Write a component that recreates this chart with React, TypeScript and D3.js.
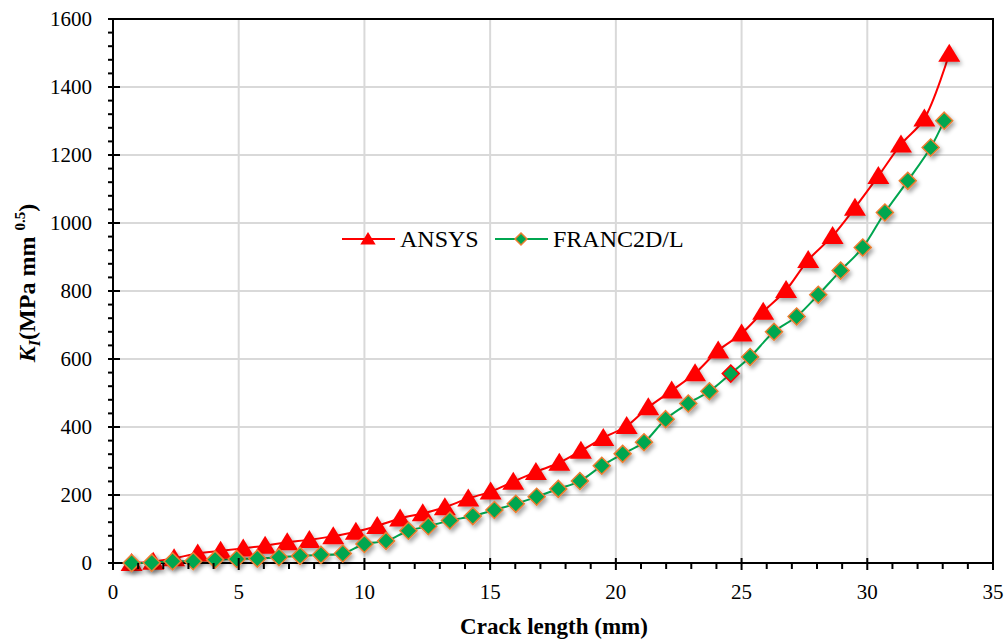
import React, { useRef, useEffect } from "react";
import { select, scaleLinear, line, curveCatmullRom, range } from "d3";

// crack length (mm) / KI values
const ansysX = [0.74, 1.6, 2.43, 3.37, 4.28, 5.18, 6.05, 6.93, 7.81, 8.76, 9.66, 10.51, 11.42, 12.32, 13.2, 14.13, 15.02, 15.92, 16.82, 17.75, 18.61, 19.5, 20.43, 21.29, 22.22, 23.15, 24.07, 25.0, 25.86, 26.77, 27.65, 28.62, 29.51, 30.44, 31.34, 32.27, 33.26];
const ansysY = [0, 4, 14, 28, 36, 43, 51, 61, 68, 79, 92, 109, 131, 146, 164, 190, 210, 239, 268, 295, 330, 368, 403, 458, 507, 558, 625, 675, 739, 803, 891, 962, 1045, 1138, 1231, 1307, 1498];

const francX = [0.74, 1.54, 2.37, 3.19, 4.06, 4.92, 5.74, 6.6, 7.44, 8.27, 9.14, 10.0, 10.86, 11.75, 12.54, 13.4, 14.31, 15.17, 16.02, 16.85, 17.71, 18.57, 19.44, 20.27, 21.12, 21.98, 22.88, 23.72, 24.57, 25.34, 26.29, 27.19, 28.05, 28.94, 29.82, 30.7, 31.61, 32.52, 33.06];
const francY = [0, 1, 5, 5, 10, 12, 13, 17, 21, 24, 28, 56, 65, 95, 108, 125, 138, 156, 174, 195, 218, 241, 286, 321, 355, 423, 469, 505, 557, 606, 680, 725, 789, 860, 928, 1031, 1124, 1222, 1301];

const xTicks = [0, 5, 10, 15, 20, 25, 30, 35];
const yTicks = [0, 200, 400, 600, 800, 1000, 1200, 1400, 1600];
const seriesNames = ["ANSYS", "FRANC2D/L"];

const W = 1005;
const H = 641;

function App() {
  const svgRef = useRef(null);

  useEffect(() => {
    const svg = select(svgRef.current);
    const x0 = 113, x1 = 993, y0 = 563, y1 = 19;
    const xScale = scaleLinear().domain([0, 35]).range([x0, x1]);
    const yScale = scaleLinear().domain([0, 1600]).range([y0, y1]);
    const font = "'Liberation Serif', 'Times New Roman', serif";

    const grid = svg.select(".grid");
    grid.selectAll(".gx").data(xTicks.slice(1, -1)).join("line").attr("class", "gx")
      .attr("x1", xScale).attr("x2", xScale).attr("y1", y1).attr("y2", y0)
      .attr("stroke", "#d9d9d9").attr("stroke-width", 2);
    grid.selectAll(".gy").data(yTicks.slice(1, -1)).join("line").attr("class", "gy")
      .attr("x1", x0).attr("x2", x1).attr("y1", yScale).attr("y2", yScale)
      .attr("stroke", "#d9d9d9").attr("stroke-width", 2);

    // frame
    grid.selectAll(".frame").data([0]).join("rect").attr("class", "frame")
      .attr("x", x0).attr("y", y1).attr("width", x1 - x0).attr("height", y0 - y1)
      .attr("fill", "none").attr("stroke", "#000").attr("stroke-width", 2);

    const axes = svg.select(".axes");
    // x ticks
    axes.selectAll(".xminor").data(range(0, 36).filter((d) => d % 5 !== 0)).join("line").attr("class", "xminor")
      .attr("x1", xScale).attr("x2", xScale).attr("y1", y0).attr("y2", y0 + 6)
      .attr("stroke", "#000").attr("stroke-width", 2);
    axes.selectAll(".xmajor").data(xTicks).join("line").attr("class", "xmajor")
      .attr("x1", xScale).attr("x2", xScale).attr("y1", y0 - 5).attr("y2", y0 + 7)
      .attr("stroke", "#000").attr("stroke-width", 2);
    axes.selectAll(".xlab").data(xTicks).join("text").attr("class", "xlab")
      .attr("x", xScale).attr("y", y0 + 36).attr("text-anchor", "middle")
      .attr("font-family", font).attr("font-size", 21).text((d) => d);

    // y ticks
    axes.selectAll(".yminor").data(range(0, 1601, 40).filter((d) => d % 200 !== 0)).join("line").attr("class", "yminor")
      .attr("x1", x0 - 5).attr("x2", x0).attr("y1", yScale).attr("y2", yScale)
      .attr("stroke", "#000").attr("stroke-width", 2);
    axes.selectAll(".ymajor").data(yTicks).join("line").attr("class", "ymajor")
      .attr("x1", x0 - 5).attr("x2", x0 + 7).attr("y1", yScale).attr("y2", yScale)
      .attr("stroke", "#000").attr("stroke-width", 2);
    axes.selectAll(".ylab").data(yTicks).join("text").attr("class", "ylab")
      .attr("x", x0 - 21).attr("y", (d) => yScale(d) + 7).attr("text-anchor", "end")
      .attr("font-family", font).attr("font-size", 21).text((d) => d);

    const lineGen = line().x((d) => xScale(d[0])).y((d) => yScale(d[1])).curve(curveCatmullRom.alpha(0.5));
    const ansys = ansysX.map((d, i) => [d, ansysY[i]]);
    const franc = francX.map((d, i) => [d, francY[i]]);

    const content = svg.select(".content");
    content.selectAll(".lineA").data([ansys]).join("path").attr("class", "lineA")
      .attr("d", lineGen).attr("fill", "none").attr("stroke", "#ff0000").attr("stroke-width", 2);
    content.selectAll(".lineF").data([franc]).join("path").attr("class", "lineF")
      .attr("d", lineGen).attr("fill", "none").attr("stroke", "#00a650").attr("stroke-width", 2);

    const tri = "M0,-10L11,8L-11,8Z";
    const dia = "M0,-8.5L8.5,0L0,8.5L-8.5,0Z";
    content.selectAll(".tri").data(ansys).join("path").attr("class", "tri")
      .attr("d", tri).attr("transform", (d) => `translate(${xScale(d[0])},${yScale(d[1])})`)
      .attr("fill", "#ff0000").attr("filter", "url(#shadow)");
    content.selectAll(".dia").data(franc).join("path").attr("class", "dia")
      .attr("d", dia).attr("transform", (d) => `translate(${xScale(d[0])},${yScale(d[1])})`)
      .attr("fill", "#00a650").attr("stroke", (d, i) => (i === 28 ? "#ff0000" : "#ed7d31")).attr("stroke-width", 1.5)
      .attr("filter", "url(#shadow)");

    // legend
    const legend = svg.select(".legend");
    const items = [
      { name: seriesNames[0], x: 342, color: "#ff0000", shape: tri, fill: "#ff0000", stroke: "none" },
      { name: seriesNames[1], x: 495, color: "#00a650", shape: "M0,-6L6,0L0,6L-6,0Z", fill: "#00a650", stroke: "#ed7d31" },
    ];
    const ly = 239;
    const g = legend.selectAll(".item").data(items).join("g").attr("class", "item");
    g.selectAll("line").data((d) => [d]).join("line")
      .attr("x1", (d) => d.x).attr("x2", (d) => d.x + 53).attr("y1", ly).attr("y2", ly)
      .attr("stroke", (d) => d.color).attr("stroke-width", 2);
    g.selectAll("path").data((d) => [d]).join("path")
      .attr("d", (d) => d.shape).attr("transform", (d) => `translate(${d.x + 26},${ly})${d.stroke === "none" ? " scale(0.7)" : ""}`)
      .attr("fill", (d) => d.fill).attr("stroke", (d) => d.stroke).attr("stroke-width", 1.5);
    g.selectAll("text").data((d) => [d]).join("text")
      .attr("x", (d) => d.x + 58).attr("y", ly + 8).attr("font-family", font).attr("font-size", 24)
      .text((d) => d.name);
  }, []);

  const font = "'Liberation Serif', 'Times New Roman', serif";
  return (
    <svg ref={svgRef} width={W} height={H} style={{ position: "absolute", left: 0, top: 0, background: "#fff" }}>
      <defs>
        <filter id="shadow" x="-50%" y="-50%" width="200%" height="200%">
          <feDropShadow dx="2" dy="3" stdDeviation="2" floodColor="#000" floodOpacity="0.35" />
        </filter>
      </defs>
      <g className="grid" />
      <g className="content" />
      <g className="axes" />
      <g className="legend" />
      <text x={554} y={634} textAnchor="middle" fontFamily={font} fontSize={23} fontWeight="bold">
        Crack length (mm)
      </text>
      <text transform="translate(35,283) rotate(-90)" textAnchor="middle" fontFamily={font} fontSize={24} fontWeight="bold">
        <tspan fontStyle="italic">K</tspan>
        <tspan fontStyle="italic" fontSize={16} dy={5}>I</tspan>
        <tspan dy={-5}>(MPa mm </tspan>
        <tspan fontSize={15} dy={-10}>0.5</tspan>
        <tspan dy={10}>)</tspan>
      </text>
    </svg>
  );
}

export default App;
